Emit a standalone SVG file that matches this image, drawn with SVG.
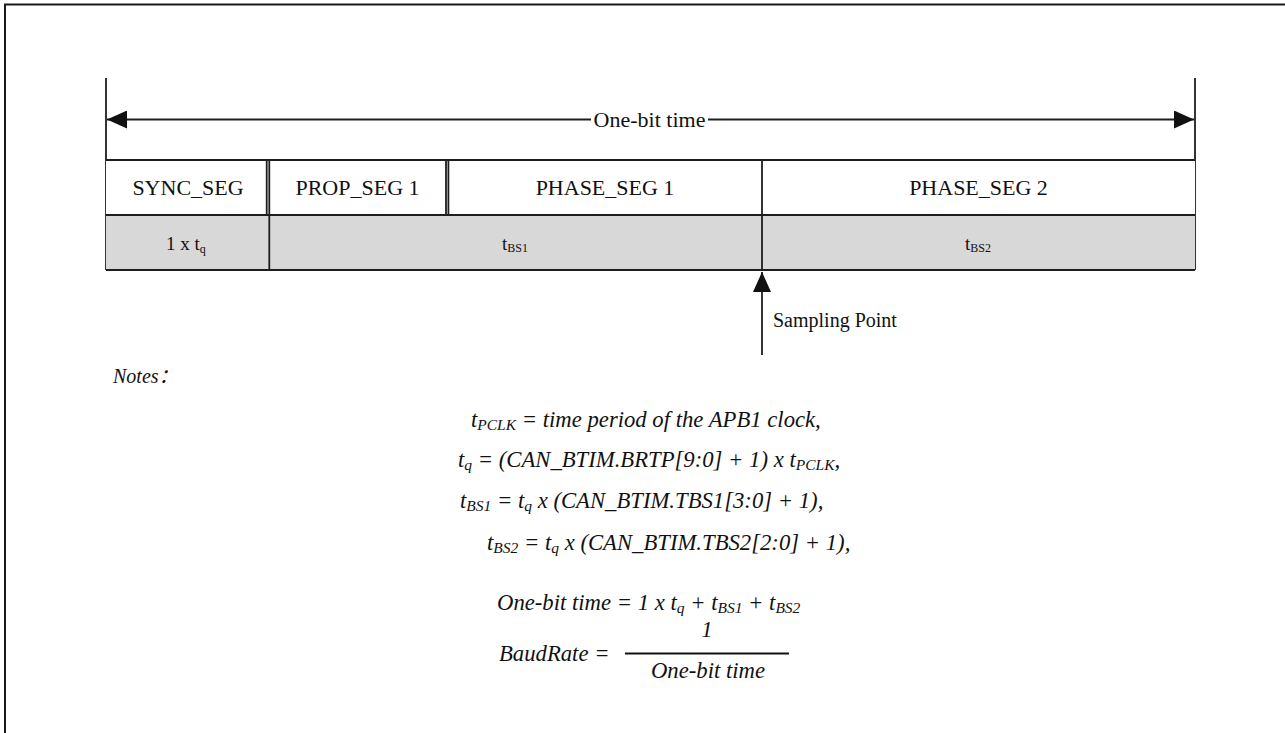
<svg xmlns="http://www.w3.org/2000/svg" width="1285" height="733" viewBox="0 0 1285 733">
<style>
text{font-family:"Liberation Serif","Times New Roman","Noto Sans CJK SC",serif;fill:#111;}
.lbl{font-size:22px;text-anchor:middle;}
.val{font-size:19px;}
.vsub{font-size:12px;}
.f{font-size:22.7px;font-style:italic;}
.sub{font-size:15.5px;}
.ln{stroke:#1e1e1e;stroke-width:1.8;fill:none;}
.c1{fill:#ffffff;}
.c2{fill:#d8d8d8;}
</style>
<defs>
<marker id="ah" viewBox="0 0 20 18" refX="20" refY="9" markerWidth="20" markerHeight="18" markerUnits="userSpaceOnUse" orient="auto">
<path d="M0,0 L20,9 L0,18 z" fill="#111"/>
</marker>
</defs>
<rect width="1285" height="733" fill="#ffffff"/>
<path d="M5,740 V4.5 H1290" stroke="#1a1a1a" stroke-width="2" fill="none"/>

<g id="connectors">
<path class="ln" d="M106,78 V270"/>
<path class="ln" d="M1195,78 V270"/>
<path class="ln" d="M591,119.5 H107" marker-end="url(#ah)"/>
<path class="ln" d="M708,119.5 H1194" marker-end="url(#ah)"/>
<path class="ln" d="M762,355 V272" marker-end="url(#ah)"/>
</g>
<g id="onebit-label"><text class="lbl" x="649.5" y="127">One-bit time</text></g>

<g id="sync-seg">
<rect class="c1" x="106" y="160" width="161" height="55"/>
<text class="lbl" x="188" y="195">SYNC_SEG</text>
</g>
<g id="prop-seg">
<rect class="c1" x="269" y="160" width="177" height="55"/>
<text class="lbl" x="357.5" y="195">PROP_SEG 1</text>
</g>
<g id="phase-seg1">
<rect class="c1" x="448" y="160" width="314" height="55"/>
<text class="lbl" x="605" y="195">PHASE_SEG 1</text>
</g>
<g id="phase-seg2">
<rect class="c1" x="762" y="160" width="433" height="55"/>
<text class="lbl" x="978.5" y="195">PHASE_SEG 2</text>
</g>
<g id="tq">
<rect class="c2" x="106" y="215" width="163" height="55"/>
<text class="val" x="166" y="250">1 x t<tspan class="vsub" dy="3">q</tspan></text>
</g>
<g id="tbs1">
<rect class="c2" x="269" y="215" width="493" height="55"/>
<text class="val" x="502" y="250">t<tspan class="vsub" dy="2">BS1</tspan></text>
</g>
<g id="tbs2">
<rect class="c2" x="762" y="215" width="433" height="55"/>
<text class="val" x="965" y="250">t<tspan class="vsub" dy="2">BS2</tspan></text>
</g>
<g id="grid">
<path class="ln" d="M106,160 H1195 M106,215 H1195 M106,270 H1195"/>
<path class="ln" d="M266.7,160 V215 M269.3,160 V270 M446,160 V215 M448.4,160 V215 M762,160 V270"/>
</g>

<g id="sampling-label"><text x="773" y="327" style="font-size:20px">Sampling Point</text></g>

<g id="notes">
<text class="f" x="113" y="383" style="font-size:20px">Notes：</text>
<text class="f" x="471" y="427">t<tspan class="sub" dy="3">PCLK</tspan><tspan dy="-3"> = time period of the APB1 clock,</tspan></text>
<text class="f" x="458" y="467">t<tspan class="sub" dy="3">q</tspan><tspan dy="-3"> = (CAN_BTIM.BRTP[9:0] + 1) x t</tspan><tspan class="sub" dy="3">PCLK</tspan><tspan dy="-3">,</tspan></text>
<text class="f" x="460" y="508">t<tspan class="sub" dy="3">BS1</tspan><tspan dy="-3"> = t</tspan><tspan class="sub" dy="3">q</tspan><tspan dy="-3"> x (CAN_BTIM.TBS1[3:0] + 1),</tspan></text>
<text class="f" x="487" y="550">t<tspan class="sub" dy="3">BS2</tspan><tspan dy="-3"> = t</tspan><tspan class="sub" dy="3">q</tspan><tspan dy="-3"> x (CAN_BTIM.TBS2[2:0] + 1),</tspan></text>
<text class="f" x="497" y="610">One-bit time = 1 x t<tspan class="sub" dy="3">q</tspan><tspan dy="-3"> + t</tspan><tspan class="sub" dy="3">BS1</tspan><tspan dy="-3"> + t</tspan><tspan class="sub" dy="3">BS2</tspan></text>
<text class="f" x="499" y="661">BaudRate =</text>
<text class="f" x="707" y="637" text-anchor="middle">1</text>
<path d="M625,653.5 H789" stroke="#111" stroke-width="1.8"/>
<text class="f" x="708" y="678" text-anchor="middle">One-bit time</text>
</g>
</svg>
